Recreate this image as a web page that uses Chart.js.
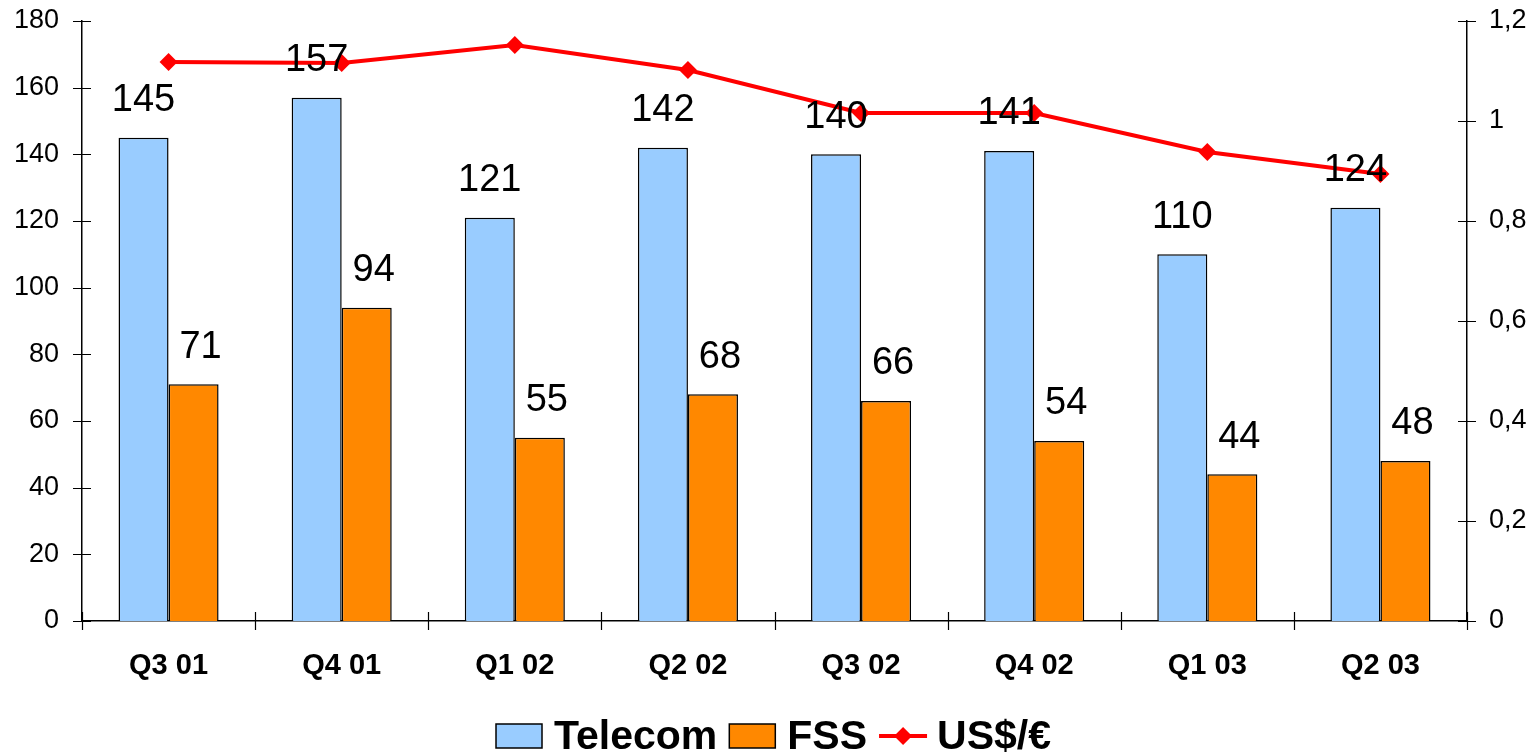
<!DOCTYPE html>
<html>
<head>
<meta charset="utf-8">
<script src="https://cdn.jsdelivr.net/npm/chart.js@4.4.1/dist/chart.umd.min.js"></script>
<style>
  body { margin: 0; background: #fff; }
  canvas { display: block; }
</style>
</head>
<body>
<canvas id="chart" width="1539" height="754"></canvas>
<script>
const quarters = ['Q3 01', 'Q4 01', 'Q1 02', 'Q2 02', 'Q3 02', 'Q4 02', 'Q1 03', 'Q2 03'];
const telecom = [145, 157, 121, 142, 140, 141, 110, 124];
const fss = [71, 94, 55, 68, 66, 54, 44, 48];
const usdEur = [1.118, 1.116, 1.152, 1.102, 1.016, 1.016, 0.938, 0.894];
const rightTickLabels = ['0', '0,2', '0,4', '0,6', '0,8', '1', '1,2'];

const FONT = "'Liberation Sans', Arial, sans-serif";

// waarden boven de staven
const barLabels = {
  id: 'barLabels',
  afterDatasetsDraw(chart) {
    const ctx = chart.ctx;
    ctx.save();
    ctx.font = '38px ' + FONT;
    ctx.fillStyle = '#000';
    ctx.textAlign = 'center';
    ctx.textBaseline = 'middle';
    [0, 1].forEach(function (i) {
      const meta = chart.getDatasetMeta(i);
      const shift = i === 1 ? 7 : 0;
      meta.data.forEach(function (bar, j) {
        ctx.fillText(chart.data.datasets[i].data[j], bar.x + shift, bar.y - 37);
      });
    });
    ctx.restore();
  }
};

// tickmarks die door de as heen steken
const crossTicks = {
  id: 'crossTicks',
  afterDraw(chart) {
    const ctx = chart.ctx;
    const area = chart.chartArea;
    const y = chart.scales.y, y1 = chart.scales.y1;
    ctx.save();
    ctx.strokeStyle = '#000';
    ctx.lineWidth = 1.2;
    ctx.beginPath();
    y.ticks.forEach(function (t) {
      const py = Math.round(y.getPixelForValue(t.value)) + 0.5;
      ctx.moveTo(area.left - 9, py);
      ctx.lineTo(area.left + 9, py);
    });
    y1.ticks.forEach(function (t) {
      const py = Math.round(y1.getPixelForValue(t.value)) + 0.5;
      ctx.moveTo(area.right - 9, py);
      ctx.lineTo(area.right + 9, py);
    });
    const w = (area.right - area.left) / quarters.length;
    for (let i = 0; i <= quarters.length; i++) {
      const px = Math.round(area.left + i * w) + 0.5;
      ctx.moveTo(px, area.bottom - 9);
      ctx.lineTo(px, area.bottom + 9);
    }
    ctx.stroke();
    ctx.restore();
  }
};

// legenda onderaan
const bottomLegend = {
  id: 'bottomLegend',
  afterDraw(chart) {
    const ctx = chart.ctx;
    const items = [
      { text: 'Telecom', type: 'box', color: '#99CCFF' },
      { text: 'FSS', type: 'box', color: '#FF8800' },
      { text: 'US$/€', type: 'line', color: '#FF0000' }
    ];
    ctx.save();
    ctx.font = 'bold 41px ' + FONT;
    const symW = 48, gap = 10, itemGap = 12;
    let total = 0;
    items.forEach(function (it, k) {
      it.w = ctx.measureText(it.text).width;
      total += symW + gap + it.w + (k < items.length - 1 ? itemGap : 0);
    });
    let cx = chart.width / 2 - total / 2 + 4;
    const cy = 736;
    items.forEach(function (it) {
      if (it.type === 'box') {
        ctx.fillStyle = it.color;
        ctx.fillRect(cx, cy - 12, 46, 24);
        ctx.strokeStyle = '#000';
        ctx.lineWidth = 1.5;
        ctx.strokeRect(cx, cy - 12, 46, 24);
      } else {
        ctx.strokeStyle = it.color;
        ctx.lineWidth = 4;
        ctx.beginPath();
        ctx.moveTo(cx, cy);
        ctx.lineTo(cx + symW, cy);
        ctx.stroke();
        ctx.fillStyle = it.color;
        ctx.beginPath();
        ctx.moveTo(cx + symW / 2, cy - 9);
        ctx.lineTo(cx + symW / 2 + 9, cy);
        ctx.lineTo(cx + symW / 2, cy + 9);
        ctx.lineTo(cx + symW / 2 - 9, cy);
        ctx.closePath();
        ctx.fill();
      }
      ctx.fillStyle = '#000';
      ctx.textAlign = 'left';
      ctx.textBaseline = 'middle';
      ctx.fillText(it.text, cx + symW + gap, cy + 2);
      cx += symW + gap + it.w + itemGap;
    });
    ctx.restore();
  }
};

// vaste breedte, geen extra ruimte boven/onder voor de labels
function fixVertical(width) {
  return function (scale) {
    scale.width = width;
    scale.paddingTop = 0;
    scale.paddingBottom = 0;
  };
}

new Chart(document.getElementById('chart'), {
  data: {
    labels: quarters,
    datasets: [
      {
        type: 'bar',
        label: 'Telecom',
        data: telecom,
        backgroundColor: '#99CCFF',
        borderColor: '#000',
        borderWidth: 1.5,
        yAxisID: 'y',
        order: 1
      },
      {
        type: 'bar',
        label: 'FSS',
        data: fss,
        backgroundColor: '#FF8800',
        borderColor: '#000',
        borderWidth: 1.5,
        yAxisID: 'y',
        order: 1
      },
      {
        type: 'line',
        label: 'US$/€',
        data: usdEur,
        borderColor: '#FF0000',
        backgroundColor: '#FF0000',
        borderWidth: 4,
        pointStyle: 'rectRot',
        pointRadius: 9,
        pointHoverRadius: 9,
        pointBorderWidth: 0,
        tension: 0,
        yAxisID: 'y1',
        order: 0
      }
    ]
  },
  options: {
    responsive: false,
    animation: false,
    categoryPercentage: 0.578,
    barPercentage: 1,
    layout: { padding: { top: 21, bottom: 0, left: 0, right: 0 } },
    plugins: {
      legend: { display: false },
      tooltip: { enabled: false }
    },
    scales: {
      x: {
        grid: { display: false, drawTicks: false },
        border: { display: true, color: '#000', width: 1.5 },
        ticks: {
          color: '#000',
          font: { family: FONT, size: 29, weight: 'bold' },
          padding: 28,
          maxRotation: 0
        },
        afterFit(scale) {
          scale.height = 133;
          scale.paddingLeft = 0;
          scale.paddingRight = 0;
        }
      },
      y: {
        position: 'left',
        min: 0,
        max: 180,
        grid: { display: false, drawTicks: false },
        border: { display: true, color: '#000', width: 1.5 },
        ticks: {
          stepSize: 20,
          color: '#000',
          font: { family: FONT, size: 27 },
          padding: 23
        },
        afterFit: fixVertical(82)
      },
      y1: {
        position: 'right',
        min: 0,
        max: 1.2,
        grid: { display: false, drawTicks: false },
        border: { display: true, color: '#000', width: 1.5 },
        ticks: {
          stepSize: 0.2,
          color: '#000',
          font: { family: FONT, size: 27 },
          padding: 22,
          callback: function (value, index) { return rightTickLabels[index]; }
        },
        afterFit: fixVertical(72)
      }
    }
  },
  plugins: [barLabels, crossTicks, bottomLegend]
});
</script>
</body>
</html>
